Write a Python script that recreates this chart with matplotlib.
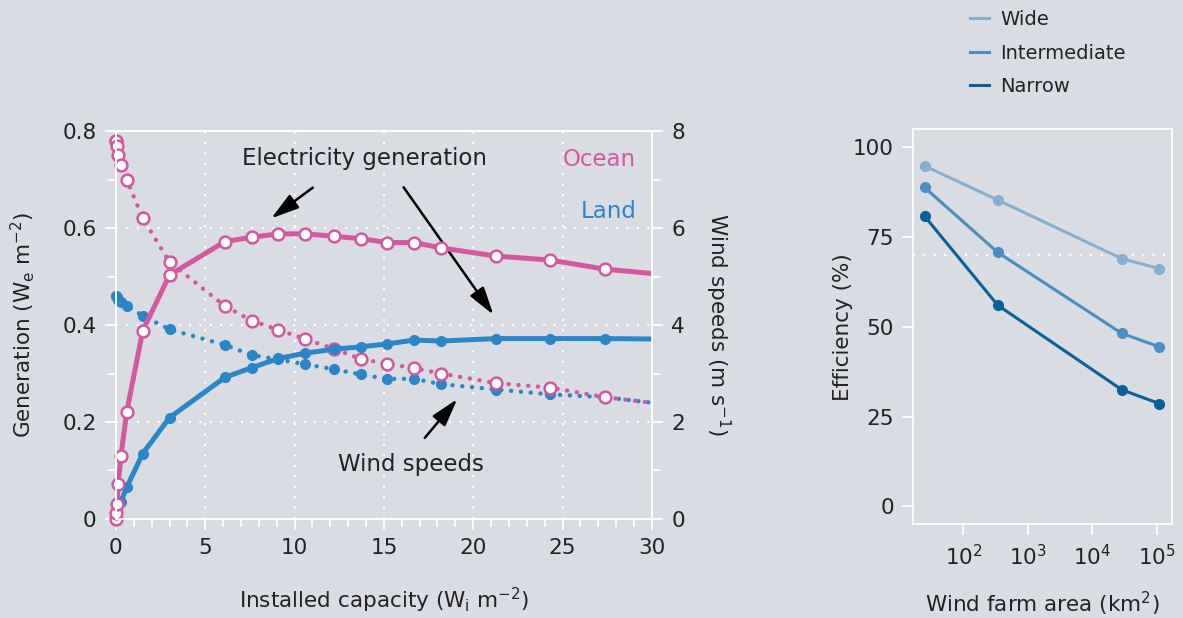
import numpy as np
import matplotlib.pyplot as plt
from matplotlib.lines import Line2D
from matplotlib.ticker import MultipleLocator, FixedLocator, NullLocator, FuncFormatter

# installed capacity (W_i m^-2)
cap = [0.0, 0.02, 0.05, 0.13, 0.28, 0.6, 1.5, 3.0, 6.1, 7.6, 9.1, 10.6,
       12.2, 13.7, 15.2, 16.7, 18.2, 21.3, 24.3, 27.4, 30.4]
ocean_gen = [0.0, 0.012, 0.03, 0.072, 0.13, 0.22, 0.388, 0.503, 0.572, 0.581,
             0.588, 0.588, 0.583, 0.578, 0.570, 0.570, 0.559, 0.542, 0.534,
             0.515, 0.505]
land_gen = [0.0, 0.01, 0.02, 0.036, 0.036, 0.065, 0.135, 0.209, 0.292, 0.312,
            0.331, 0.342, 0.350, 0.355, 0.361, 0.369, 0.367, 0.372, 0.372,
            0.372, 0.371]
ocean_wind = [7.8, 7.8, 7.7, 7.5, 7.3, 7.0, 6.2, 5.3, 4.39, 4.09, 3.90, 3.71,
              3.51, 3.30, 3.20, 3.11, 3.00, 2.80, 2.71, 2.51, 2.38]
land_wind = [4.6, 4.6, 4.58, 4.52, 4.48, 4.40, 4.19, 3.91, 3.59, 3.38, 3.29,
             3.19, 3.09, 2.98, 2.89, 2.89, 2.78, 2.67, 2.57, 2.51, 2.38]

# efficiency vs wind farm area
area = [25, 342, 28500, 110000]
eff_wide = [94.8, 85.3, 69.0, 66.2]
eff_inter = [88.8, 70.7, 48.2, 44.4]
eff_narrow = [80.8, 56.0, 32.5, 28.6]

bg = '#d9dce2'
pink = '#d3589f'
blue = '#2b86c8'
txt = '#222222'
c_wide, c_inter, c_narrow = '#86afd1', '#4a8fc1', '#0a6199'

plt.rcParams['font.family'] = ['DejaVu Sans']
plt.rcParams['text.color'] = txt
plt.rcParams['axes.labelcolor'] = txt
plt.rcParams['xtick.color'] = 'white'
plt.rcParams['ytick.color'] = 'white'
plt.rcParams['xtick.labelcolor'] = txt
plt.rcParams['ytick.labelcolor'] = txt

fig = plt.figure(figsize=(11.83, 6.18), dpi=100, facecolor=bg)

ax = fig.add_axes([0.098, 0.1602, 0.453, 0.6278], facecolor=bg)
ax2 = ax.twinx()
ax2.set_zorder(2)
ax.set_zorder(1)
ax2.patch.set_visible(False)

capa = np.array(cap)
inside = capa <= 30
gscale = 10  # generation drawn on wind-speed axis (0.8 <-> 8)

dot = (0, (0.01, 2.2))
series = [
    (land_wind, 1, dot, blue, blue, 7, 1.0),
    (ocean_wind, 1, dot, pink, 'white', 8.5, 1.8),
    (land_gen, gscale, '-', blue, blue, 7, 1.0),
    (ocean_gen, gscale, '-', pink, 'white', 8.5, 1.8),
]
for vals, k, ls, col, face, ms, mew in series:
    v = np.array(vals) * k
    ax2.plot(capa, v, color=col, lw=3.2 if ls is dot else 3.6, ls=ls,
             dash_capstyle='round')
    ax2.plot(capa[inside], v[inside], ls='none', marker='o', ms=ms,
             mfc=face, mec=col, mew=mew, clip_on=False)

ax2.set_ylim(0, 8)
ax.set_xlim(0, 30)
ax.set_ylim(0, 0.8)
ax.xaxis.set_major_locator(MultipleLocator(5))
ax.xaxis.set_minor_locator(MultipleLocator(1))
ax.yaxis.set_major_locator(MultipleLocator(0.2))
ax.yaxis.set_minor_locator(MultipleLocator(0.1))
ax.yaxis.set_major_formatter(FuncFormatter(lambda v, p: '0' if v == 0 else f'{v:.1f}'))
ax2.yaxis.set_major_locator(MultipleLocator(2))
ax2.yaxis.set_minor_locator(MultipleLocator(1))

for a in (ax, ax2):
    for s in a.spines.values():
        s.set_color('white')
        s.set_linewidth(1.3)
    a.tick_params(which='major', length=8, width=1.3, labelsize=15.5, pad=6)
    a.tick_params(which='minor', length=6, width=1.3)

for x in [5, 10, 15, 20, 25]:
    ax.axvline(x, color='white', ls=(0, (1, 4)), lw=1.5, zorder=0)
for y in [0.2, 0.4, 0.6]:
    ax.axhline(y, color='white', ls=(0, (1, 4)), lw=1.5, zorder=0)

ax.set_xlabel('Installed capacity (W$_\\mathregular{i}$ m$^{\\mathregular{-2}}$)',
              fontsize=15.5, labelpad=20)
ax.set_ylabel('Generation (W$_\\mathregular{e}$ m$^{\\mathregular{-2}}$)',
              fontsize=15.5, labelpad=18)
ax2.set_ylabel('Wind speeds (m s$^{\\mathregular{-1}}$)', fontsize=15.5,
               rotation=270, labelpad=34)

fig.text(364 / 1183, 1 - 159 / 618, 'Electricity generation', fontsize=16.5,
         ha='center', va='center')
fig.text(411 / 1183, 1 - 464 / 618, 'Wind speeds', fontsize=16.5,
         ha='center', va='center')
fig.text(636 / 1183, 1 - 160 / 618, 'Ocean', fontsize=16.5, color=pink,
         ha='right', va='center')
fig.text(637 / 1183, 1 - 211 / 618, 'Land', fontsize=16.5, color=blue,
         ha='right', va='center')

arr = dict(arrowstyle='-|>,head_length=0.85,head_width=0.25', color='black',
           lw=1.8, mutation_scale=20)
for tail, head in [((315, 186), (269, 220)), ((402, 185), (495, 317)),
                   ((423, 440), (459, 397))]:
    ax.annotate('', xy=(head[0] / 1183, 1 - head[1] / 618),
                xytext=(tail[0] / 1183, 1 - tail[1] / 618),
                xycoords='figure fraction', textcoords='figure fraction',
                arrowprops=arr)

# right panel
bx = fig.add_axes([0.772, 0.1516, 0.2185, 0.6392], facecolor=bg)
for vals, col in [(eff_wide, c_wide), (eff_inter, c_inter), (eff_narrow, c_narrow)]:
    bx.plot(area, vals, color=col, lw=2.2, marker='o', ms=7, clip_on=False)
bx.set_xscale('log')
bx.set_xlim(16.7, 1.71e5)
bx.set_ylim(-5, 105)
bx.xaxis.set_major_locator(FixedLocator([1e2, 1e3, 1e4, 1e5]))
bx.xaxis.set_minor_locator(NullLocator())
bx.yaxis.set_major_locator(FixedLocator([0, 25, 50, 75, 100]))
bx.axhline(70, color='white', ls=(0, (1, 4)), lw=1.5, zorder=0)
for s in bx.spines.values():
    s.set_color('white')
    s.set_linewidth(1.3)
bx.tick_params(length=8, width=1.3, labelsize=15.5, pad=6)
bx.set_xlabel('Wind farm area (km$^{\\mathregular{2}}$)', fontsize=15.5, labelpad=15)
bx.set_ylabel('Efficiency (%)', fontsize=15.5, labelpad=0)

handles = [Line2D([], [], color=c, lw=2.2) for c in (c_wide, c_inter, c_narrow)]
fig.legend(handles, ['Wide', 'Intermediate', 'Narrow'], loc='upper left',
           bbox_to_anchor=(952 / 1183, 1.012), frameon=False, fontsize=14,
           handlelength=1.0, handletextpad=0.6, labelspacing=0.75)

fig.savefig('out.png', dpi=100, facecolor=bg)
